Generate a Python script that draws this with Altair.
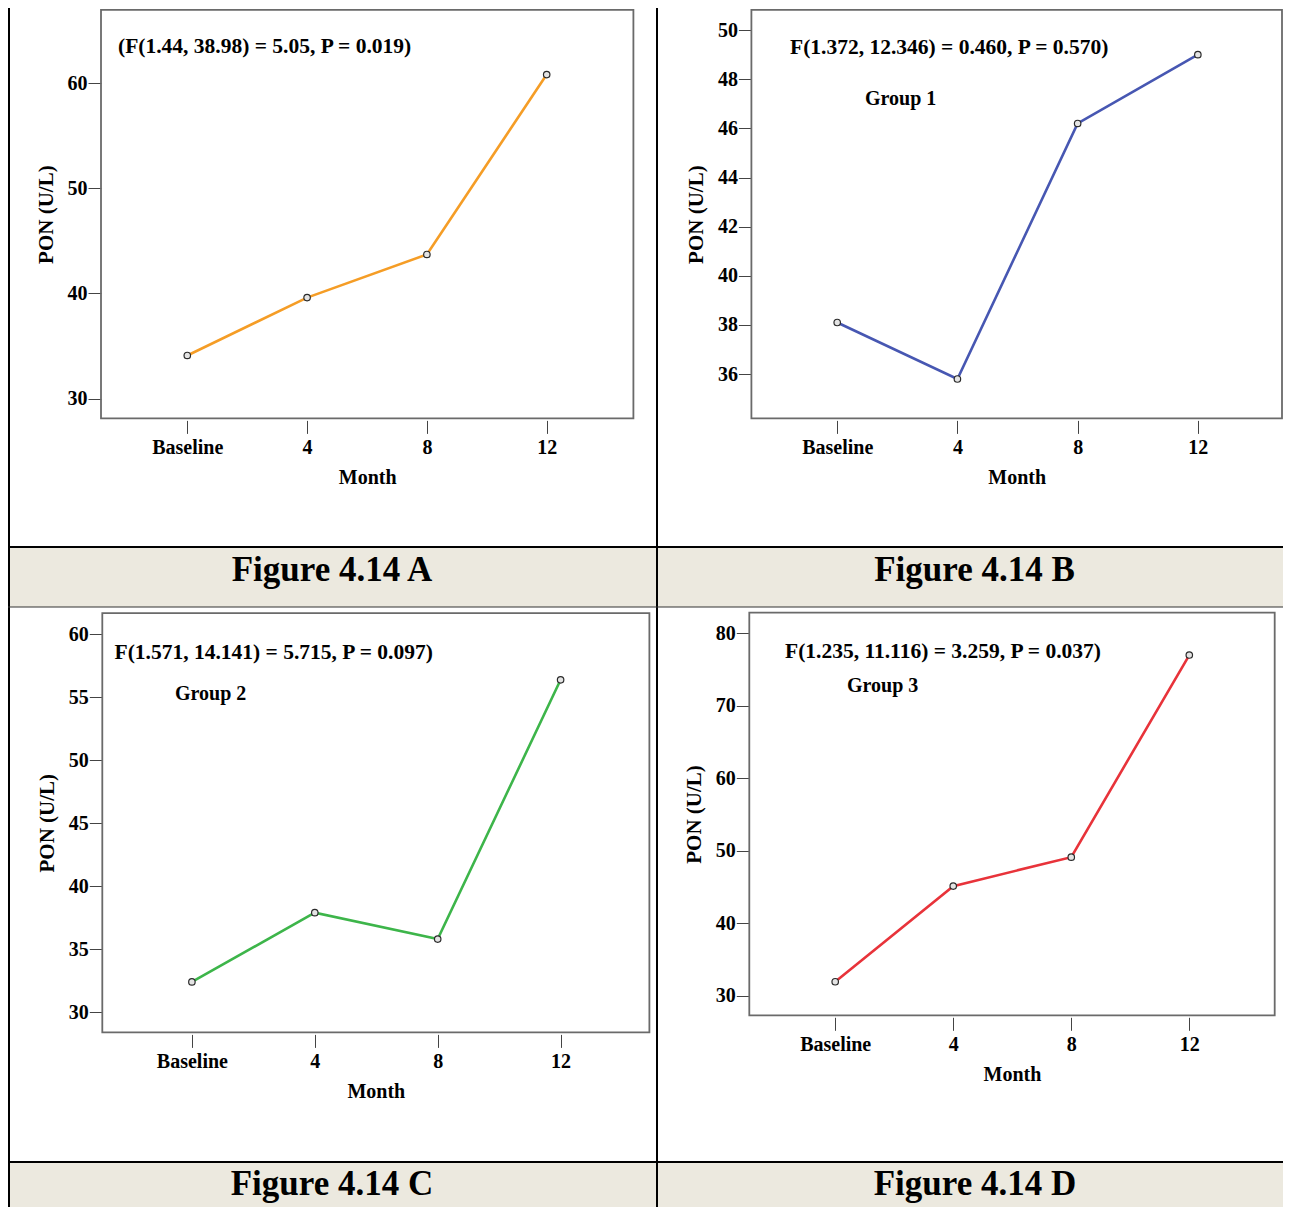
import altair as alt
import pandas as pd

# ---------------- data ----------------
months = [0, 4, 8, 12]
month_labels = ["Baseline", "4", "8", "12"]

pon_a = [34.1, 39.6, 43.7, 60.8]
pon_b = [38.1, 35.8, 46.2, 49.0]
pon_c = [32.4, 37.9, 35.8, 56.4]
pon_d = [31.9, 45.1, 49.1, 77.0]

yticks_a = [30, 40, 50, 60]
yticks_b = [36, 38, 40, 42, 44, 46, 48, 50]
yticks_c = [30, 35, 40, 45, 50, 55, 60]
yticks_d = [30, 40, 50, 60, 70, 80]

stats = [
    "(F(1.44, 38.98) = 5.05, P = 0.019)",
    "F(1.372, 12.346) = 0.460, P = 0.570)",
    "F(1.571, 14.141) = 5.715, P = 0.097)",
    "F(1.235, 11.116) = 3.259, P = 0.037)",
]
groups = ["", "Group 1", "Group 2", "Group 3"]
captions = ["Figure 4.14 A", "Figure 4.14 B", "Figure 4.14 C", "Figure 4.14 D"]

# ---------------- layout / style ----------------
W, H = 1275, 1199
FONT = "Liberation Serif"
BAND = "#ECE9DF"

panels = [
    dict(vals=pon_a, ticks=yticks_a, color="#F59D26",
         xdom=[-2.881, 14.895], xr=[93.0, 625.4], ydom=[28.118, 66.949], yr=[410.4, 1.9],
         stat=(110, 39), grp=(0, 0), cap=(324, 572.5)),
    dict(vals=pon_b, ticks=yticks_b, color="#4757B2",
         xdom=[-2.855, 14.800], xr=[743.4, 1274.0], ydom=[34.197, 50.822], yr=[410.4, 1.9],
         stat=(782, 40), grp=(857, 91), cap=(966.5, 572.5)),
    dict(vals=pon_c, ticks=yticks_c, color="#3DB54A",
         xdom=[-2.916, 14.890], xr=[94.3, 641.4], ydom=[28.387, 61.700], yr=[1024.4, 605.1],
         stat=(106.5, 645), grp=(167, 686), cap=(324, 1187)),
    dict(vals=pon_d, ticks=yticks_d, color="#E8333A",
         xdom=[-2.911, 14.894], xr=[741.3, 1266.7], ydom=[27.267, 82.844], yr=[1007.3, 604.7],
         stat=(777, 643.5), grp=(839, 678), cap=(967, 1187)),
]

label_expr = (
    "[" + ",".join(f"'{l}'" for l in month_labels) + "]"
    + "[indexof([" + ",".join(str(m) for m in months) + "], datum.value)]"
)

one = pd.DataFrame({"k": [0]})


def text_layer(txt, x, y, size, align="left", baseline="middle"):
    return alt.Chart(pd.DataFrame({"t": [txt]})).mark_text(
        font=FONT, fontWeight="bold", fontSize=size, color="black",
        align=align, baseline=baseline,
    ).encode(x=alt.value(x), y=alt.value(y), text="t:N")


def make_panel(p, stat, grp, cap):
    df = pd.DataFrame({"month": months, "pon": p["vals"]})
    x_axis_y = p["yr"][0] + 2
    xenc = alt.X(
        "month:Q",
        scale=alt.Scale(domain=p["xdom"], range=p["xr"], nice=False, zero=False),
        axis=alt.Axis(values=months, labelExpr=label_expr, title="Month", orient="bottom",
                      offset=x_axis_y - H, tickSize=13, labelPadding=4, titlePadding=10,
                      labelAngle=0),
    )
    yenc = alt.Y(
        "pon:Q",
        scale=alt.Scale(domain=p["ydom"], range=p["yr"], nice=False, zero=False),
        axis=alt.Axis(values=p["ticks"], title="PON (U/L)", orient="left",
                      offset=-p["xr"][0], tickSize=13, labelPadding=1, titlePadding=11,
                      titleFontSize=21),
    )
    box = alt.Chart(one).mark_rect(fillOpacity=0, stroke="#6a6a6a", strokeWidth=1.8).encode(
        x=alt.value(p["xr"][0]), x2=alt.value(p["xr"][1]),
        y=alt.value(p["yr"][1]), y2=alt.value(p["yr"][0]),
    )
    base = alt.Chart(df).encode(x=xenc, y=yenc)
    line = base.mark_line(color=p["color"], strokeWidth=2.6)
    pts = base.mark_point(shape="circle", filled=True, fill="#e4e4e4", stroke="#2a2a2a",
                          strokeWidth=1.2, size=42, opacity=1)
    layers = [box, line, pts, text_layer(stat, p["stat"][0], p["stat"][1], 21.5)]
    if grp:
        layers.append(text_layer(grp, p["grp"][0], p["grp"][1], 20))
    layers.append(text_layer(cap, p["cap"][0], p["cap"][1], 35, align="center",
                             baseline="alphabetic"))
    return alt.layer(*layers)


# ---------------- table frame ----------------
def band(y1, y2):
    return alt.Chart(one).mark_rect(color=BAND).encode(
        x=alt.value(0), x2=alt.value(W), y=alt.value(y1), y2=alt.value(y2))


def hline(y, w, color="black"):
    return alt.Chart(one).mark_rule(color=color, strokeWidth=w).encode(
        x=alt.value(0), x2=alt.value(W), y=alt.value(y))


def vline(x, w):
    return alt.Chart(one).mark_rule(color="black", strokeWidth=w).encode(
        x=alt.value(x), y=alt.value(0), y2=alt.value(H))


frame = [
    band(539, 599), band(1154, H),
    vline(1, 2), vline(649, 2),
    hline(539, 2.2), hline(599, 1, "#333333"), hline(1154, 2.2),
]

panel_layers = [make_panel(p, s, g, c) for p, s, g, c in zip(panels, stats, groups, captions)]

chart = (
    alt.layer(*frame, *panel_layers)
    .resolve_scale(x="independent", y="independent")
    .resolve_axis(x="independent", y="independent")
    .properties(width=W, height=H, autosize=alt.AutoSizeParams(type="none"), padding=0,
                background="white")
    .configure_view(stroke="transparent")
    .configure_axis(
        labelFont=FONT, labelFontWeight="bold", labelFontSize=20, labelColor="black",
        titleFont=FONT, titleFontWeight="bold", titleFontSize=20, titleColor="black",
        tickColor="#444444", tickWidth=1, domain=False, grid=False,
        labelFlush=False, labelOverlap=False,
    )
)

chart.save("out.html", embed_options={"renderer": "svg", "actions": False})
